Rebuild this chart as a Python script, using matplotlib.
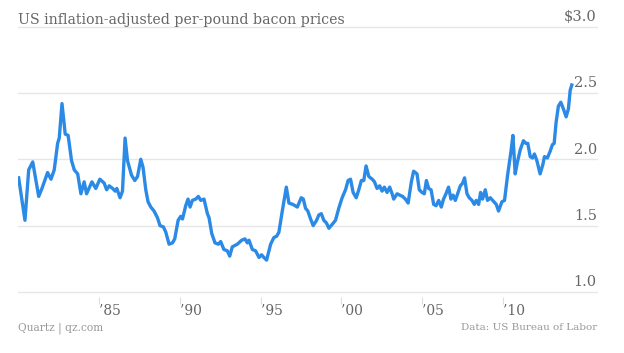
import matplotlib
matplotlib.use("Agg")
import matplotlib.pyplot as plt
import matplotlib.transforms as mtransforms

# bacon price, dollars per pound, inflation adjusted
years = [1980.04, 1980.43, 1980.66, 1980.91, 1981.28, 1981.48, 1981.83, 1982.04, 1982.24, 1982.45,
         1982.55, 1982.72, 1982.92, 1983.10, 1983.31, 1983.48, 1983.69, 1983.89, 1984.09, 1984.24,
         1984.57, 1984.81, 1985.06, 1985.33, 1985.48, 1985.64, 1985.85, 1986.01, 1986.11, 1986.31,
         1986.46, 1986.62, 1986.77, 1987.02, 1987.22, 1987.39, 1987.59, 1987.73, 1987.90, 1988.04,
         1988.21, 1988.41, 1988.62, 1988.78, 1988.99, 1989.14, 1989.34, 1989.55, 1989.69, 1989.90,
         1990.06, 1990.17, 1990.37, 1990.51, 1990.64, 1990.78, 1990.99, 1991.15, 1991.30, 1991.50,
         1991.71, 1991.81, 1991.98, 1992.18, 1992.39, 1992.53, 1992.73, 1992.94, 1993.09, 1993.25,
         1993.56, 1993.83, 1994.03, 1994.18, 1994.28, 1994.49, 1994.69, 1994.90, 1995.06, 1995.20,
         1995.37, 1995.62, 1995.82, 1995.99, 1996.13, 1996.34, 1996.59, 1996.75, 1996.99, 1997.27,
         1997.51, 1997.64, 1997.78, 1997.92, 1998.09, 1998.25, 1998.46, 1998.60, 1998.75, 1998.91,
         1999.07, 1999.22, 1999.43, 1999.63, 1999.83, 2000.04, 2000.25, 2000.41, 2000.56, 2000.72,
         2000.91, 2001.07, 2001.23, 2001.38, 2001.52, 2001.69, 2001.90, 2002.04, 2002.20, 2002.36,
         2002.51, 2002.65, 2002.82, 2002.98, 2003.13, 2003.23, 2003.44, 2003.60, 2003.78, 2003.95,
         2004.12, 2004.32, 2004.46, 2004.67, 2004.81, 2004.98, 2005.12, 2005.25, 2005.39, 2005.54,
         2005.70, 2005.85, 2006.01, 2006.17, 2006.31, 2006.46, 2006.62, 2006.77, 2006.90, 2007.04,
         2007.18, 2007.35, 2007.49, 2007.61, 2007.76, 2007.90, 2008.07, 2008.21, 2008.33, 2008.48,
         2008.60, 2008.72, 2008.89, 2009.03, 2009.20, 2009.35, 2009.57, 2009.71, 2009.92, 2010.08,
         2010.27, 2010.48, 2010.60, 2010.74, 2010.88, 2011.05, 2011.25, 2011.40, 2011.52, 2011.67,
         2011.81, 2011.93, 2012.08, 2012.28, 2012.45, 2012.55, 2012.73, 2012.90, 2013.04, 2013.15,
         2013.27, 2013.41, 2013.56, 2013.72, 2013.89, 2014.03, 2014.14, 2014.24]
prices = [1.86, 1.54, 1.92, 1.98, 1.72, 1.78, 1.90, 1.85, 1.92, 2.12,
          2.16, 2.42, 2.19, 2.18, 1.99, 1.92, 1.89, 1.74, 1.83, 1.74,
          1.83, 1.78, 1.85, 1.82, 1.77, 1.80, 1.78, 1.76, 1.78, 1.71,
          1.76, 2.16, 1.99, 1.88, 1.84, 1.87, 2.00, 1.94, 1.77, 1.68,
          1.64, 1.61, 1.56, 1.50, 1.49, 1.45, 1.36, 1.37, 1.40, 1.54,
          1.57, 1.55, 1.65, 1.70, 1.64, 1.69, 1.70, 1.72, 1.69, 1.70,
          1.59, 1.56, 1.44, 1.37, 1.36, 1.38, 1.32, 1.31, 1.27, 1.34,
          1.36, 1.39, 1.40, 1.37, 1.39, 1.32, 1.31, 1.26, 1.28, 1.26,
          1.24, 1.36, 1.41, 1.42, 1.45, 1.61, 1.79, 1.67, 1.66, 1.64,
          1.71, 1.70, 1.63, 1.61, 1.55, 1.50, 1.54, 1.58, 1.59, 1.54,
          1.52, 1.48, 1.51, 1.54, 1.63, 1.71, 1.77, 1.84, 1.85, 1.75,
          1.71, 1.77, 1.84, 1.84, 1.95, 1.87, 1.85, 1.83, 1.78, 1.80,
          1.76, 1.79, 1.75, 1.79, 1.74, 1.70, 1.74, 1.73, 1.72, 1.70,
          1.67, 1.83, 1.91, 1.89, 1.77, 1.75, 1.74, 1.84, 1.78, 1.77,
          1.66, 1.65, 1.69, 1.64, 1.70, 1.74, 1.79, 1.70, 1.73, 1.69,
          1.74, 1.80, 1.82, 1.86, 1.74, 1.71, 1.69, 1.66, 1.69, 1.66,
          1.75, 1.70, 1.77, 1.69, 1.71, 1.69, 1.66, 1.61, 1.68, 1.69,
          1.88, 2.06, 2.18, 1.89, 1.98, 2.07, 2.14, 2.12, 2.12, 2.02,
          2.01, 2.04, 1.99, 1.89, 1.96, 2.02, 2.01, 2.06, 2.11, 2.12,
          2.28, 2.40, 2.43, 2.38, 2.32, 2.38, 2.52, 2.56]

xtick_years = [1985, 1990, 1995, 2000, 2005, 2010]
xtick_labels = ["\u201985", "\u201990", "\u201995", "\u201900", "\u201905", "\u201910"]
ytick_vals = [1.0, 1.5, 2.0, 2.5, 3.0]
ytick_labels = ["1.0", "1.5", "2.0", "2.5", "$3.0"]

serif = "DejaVu Serif"
text_gray = "#666666"

fig = plt.figure(figsize=(6.24, 3.53), dpi=100)
# a little room under 1.0 and over 3.0 so the outer gridlines are not clipped
ax = fig.add_axes([18 / 624, 58.4 / 353, 580 / 624, 269.3 / 353])

ax.plot(years, prices, color="#2b8ae6", linewidth=2.4, solid_joinstyle="round", zorder=3)

ax.set_xlim(1980.0, 2015.86)
ax.set_ylim(0.98, 3.01)

for s in ax.spines.values():
    s.set_visible(False)
ax.spines["bottom"].set_position(("outward", 2))

ax.set_yticks(ytick_vals)
ax.set_yticklabels([])
ax.tick_params(axis="y", length=0)
ax.grid(axis="y", color="#e6e6e6", linewidth=1)
ax.set_axisbelow(True)

ax.set_xticks(xtick_years)
ax.set_xticklabels(xtick_labels, fontfamily=serif, fontsize=10, color=text_gray, ha="left")
ax.tick_params(axis="x", length=5, width=0.8, color="#dddddd", pad=0)

trans = mtransforms.blended_transform_factory(ax.transAxes, ax.transData)
for v, lab in zip(ytick_vals, ytick_labels):
    ax.text(0.998, v + 0.02, lab, transform=trans, ha="right", va="bottom",
            fontfamily=serif, fontsize=10.5, color=text_gray)

fig.text(18 / 624, 1 - 24 / 353, "US inflation-adjusted per-pound bacon prices",
         fontfamily=serif, fontsize=10.2, color=text_gray, va="baseline")
fig.text(18 / 624, 1 - 330 / 353, "Quartz | qz.com", fontfamily=serif, fontsize=7.7,
         color="#999999", va="baseline")
fig.text(597 / 624, 1 - 330 / 353, "Data: US Bureau of Labor", fontfamily=serif, fontsize=7.5,
         color="#999999", va="baseline", ha="right")

fig.savefig("out.png", dpi=100)
